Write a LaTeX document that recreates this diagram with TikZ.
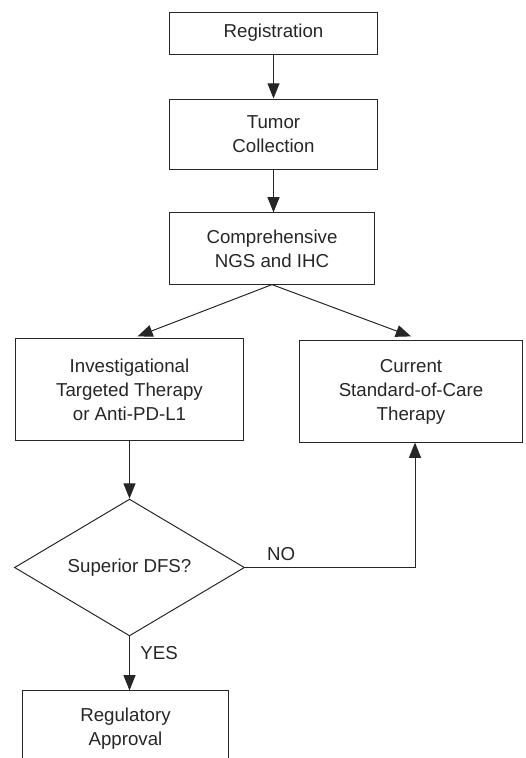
\documentclass[tikz,border=0pt]{standalone}
\usepackage{fontspec}
\setmainfont{Liberation Sans}
\usetikzlibrary{shapes.geometric, arrows.meta, positioning}

\begin{document}
\begin{tikzpicture}[x=0.025cm, y=-0.025cm, black!85, line width=0.7pt,
  font=\fontsize{13.3}{17}\selectfont,
  box/.style={draw, align=center, inner sep=0pt},
  decision/.style={draw, diamond, aspect=1.68, inner sep=0pt, minimum width=5.75cm, minimum height=3.42cm},
  arr/.style={-{Triangle[length=0.38cm, width=0.3cm]}}];

\useasboundingbox (0,0) rectangle (526,758);

\node[box, minimum width=5.18cm, minimum height=1.05cm] (reg) at (273.5,33) {Registration};
\node[box, minimum width=5.18cm, minimum height=1.75cm] (tumor) at (273.5,134) {Tumor\\Collection};
\node[box, minimum width=5.13cm, minimum height=1.78cm] (ngs) at (272,248.5) {Comprehensive\\NGS and IHC};
\node[box, minimum width=5.68cm, minimum height=2.53cm] (invest) at (129.5,389.5) {Investigational\\Targeted Therapy\\or Anti-PD-L1};
\node[box, minimum width=5.55cm, minimum height=2.53cm] (current) at (411,391.5) {Current\\Standard-of-Care\\Therapy};
\node[decision] (dfs) at (129.5,567.5) {Superior DFS?};
\node[box, minimum width=5.13cm, minimum height=1.88cm] (approval) at (125.5,728.5) {Regulatory\\Approval};

\draw[arr] (reg) -- (tumor);
\draw[arr] (tumor.south) -- (tumor.south |- ngs.north);
\draw[arr] (ngs.south) -- ([xshift=0.2cm, yshift=0.05cm]invest.north);
\draw[arr] (ngs.south) -- ([yshift=0.1cm]current.north);
\draw[arr] (invest.south) -- (dfs.north);
\draw[arr] (dfs.east) node[above right=1pt and 12pt] {NO} -| ([xshift=0.1cm]current.south);
\draw[arr] (dfs.south) -- node[right=4pt, pos=0.3] {YES} (dfs.south |- approval.north);
\end{tikzpicture}
\end{document}
